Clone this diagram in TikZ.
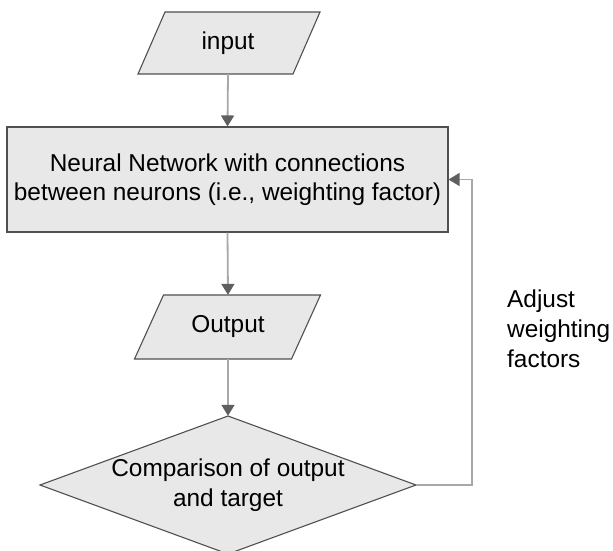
\documentclass[tikz,border=0pt]{standalone}
\usepackage{fontspec}
\setmainfont{Liberation Sans}
\usetikzlibrary{arrows.meta}
\definecolor{fillg}{HTML}{E8E8E8}
\definecolor{edgeg}{HTML}{505050}
\definecolor{lineg}{HTML}{A8A8A8}
\definecolor{headg}{HTML}{5F5F5F}
\begin{document}
\begin{tikzpicture}[x=1pt,y=-1pt,
  shapeline/.style={draw=edgeg, line width=1.1pt, fill=fillg},
  lbl/.style={font=\fontsize{24.4}{29.5}\selectfont, align=center, inner sep=0pt, text=black},
  flow/.style={draw=lineg, line width=1.8pt, -{Triangle[length=11pt,width=13pt,color=headg]}},
  fback/.style={draw=lineg, line width=1.3pt, -{Triangle[length=11pt,width=13pt,color=headg]}}]
\useasboundingbox (0,0) rectangle (613,551);
% input parallelogram
\path[shapeline] (165,12) -- (320,12) -- (293,74) -- (138,74) -- cycle;
\node[lbl, minimum height=62pt] (in) at (228,43) {input};
% neural network box
\node[shapeline, lbl, minimum width=441pt, minimum height=105pt] (nn) at (227.5,179.5)
  {Neural Network with connections\\between neurons (i.e., weighting factor)};
% output parallelogram
\path[shapeline] (163.5,295) -- (320.5,295) -- (291.5,359) -- (134.5,359) -- cycle;
\node[lbl, minimum height=64pt] (out) at (228,327) {Output};
% comparison diamond
\path[shapeline] (228,416) -- (416,485) -- (228,554) -- (40,485) -- cycle;
\node[lbl, minimum height=138pt] (cmp) at (228,485) {Comparison of output\\and target};
\coordinate (cmpR) at (416,485);
% adjust label
\node[lbl, align=left, anchor=west, font=\fontsize{24.4}{30}\selectfont] (adj) at (507,329) {Adjust\\weighting\\factors};
% connectors
\draw[flow] (in.south) -- (nn.north);
\draw[flow] (nn.south) -- (out.north);
\draw[flow] (out.south) -- (cmp.north);
\draw[fback] (cmpR) -- ++(56,0) |- (nn.east);
\end{tikzpicture}
\end{document}
